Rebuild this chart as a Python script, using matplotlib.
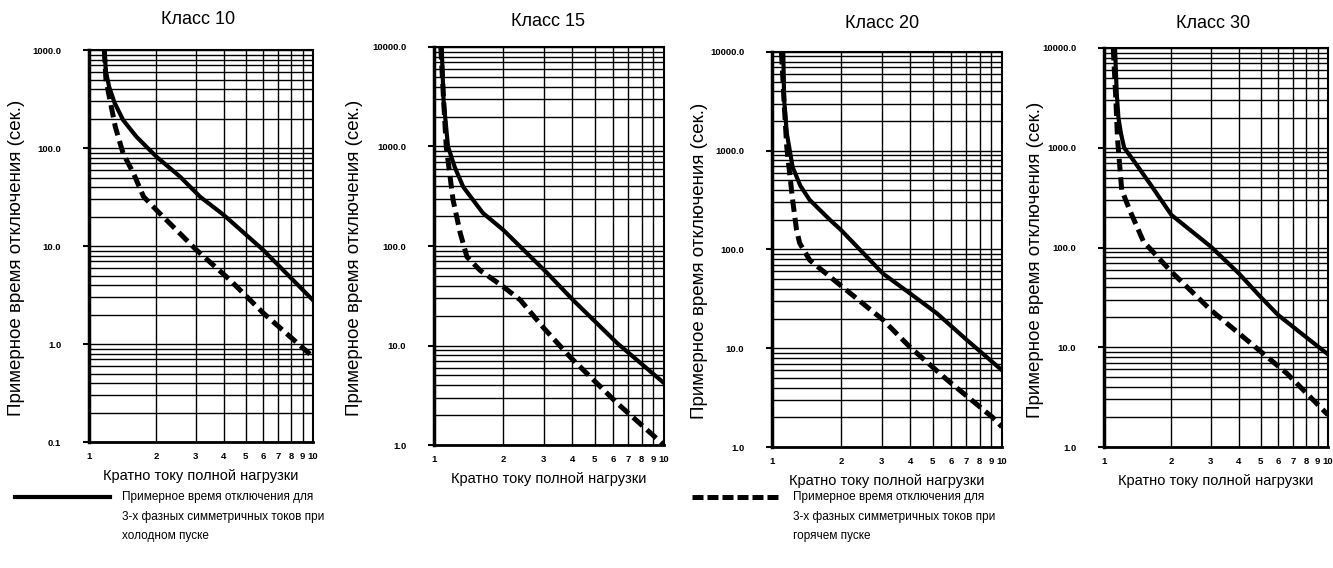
import matplotlib
matplotlib.use("Agg")
import matplotlib.pyplot as plt
from matplotlib.ticker import FixedLocator, FixedFormatter, LogLocator, NullFormatter
from matplotlib.lines import Line2D

plt.rcParams['font.family'] = ['Liberation Sans', 'DejaVu Sans']

# ---------------- data ----------------
titles = ["Класс 10", "Класс 15", "Класс 20", "Класс 30"]
ylabel = "Примерное время отключения (сек.)"
xlabel = "Кратно току полной нагрузки"
x_ticks = [1, 2, 3, 4, 5, 6, 7, 8, 9, 10]
x_ticklabels = ["1", "2", "3", "4", "5", "6", "7", "8", "9", "10"]
y_ticks_c10 = [0.1, 1.0, 10.0, 100.0, 1000.0]
y_ticks_other = [1.0, 10.0, 100.0, 1000.0, 10000.0]

# Class 10
c10_cold_x = [1.17, 1.19, 1.23, 1.30, 1.42, 1.63, 2.0, 2.55, 3.13, 4.0, 6.0, 10.0]
c10_cold_t = [1000, 600, 420, 290, 193, 130, 81.6, 51, 31.9, 20.7, 9.1, 2.8]
c10_hot_x = [1.17, 1.19, 1.24, 1.31, 1.42, 1.58, 1.75, 2.0, 3.02, 4.26, 6.0, 10.0]
c10_hot_t = [1000, 494, 309, 165, 88, 55, 32, 23.3, 9.1, 4.5, 2.07, 0.74]

# Class 15
c15_cold_x = [1.08, 1.10, 1.15, 1.23, 1.34, 1.63, 2.0, 3.1, 4.02, 6.25, 10.0]
c15_cold_t = [10000, 2930, 1000, 622, 392, 215, 145, 53.7, 28.7, 10.6, 4.2]
c15_hot_x = [1.07, 1.10, 1.13, 1.21, 1.30, 1.39, 1.585, 2.0, 2.37, 3.0, 3.9, 6.25, 10.0]
c15_hot_t = [10000, 3000, 1000, 290, 135, 78, 57, 39, 28.7, 15, 7.7, 2.64, 1.0]

# Class 20
c20_cold_x = [1.12, 1.13, 1.16, 1.23, 1.33, 1.46, 1.79, 2.0, 3.04, 3.98, 5.2, 7.05, 10.0]
c20_cold_t = [10000, 3265, 1513, 684, 440, 317, 199, 157, 57, 36, 22.7, 12.1, 6.0]
c20_hot_x = [1.10, 1.13, 1.16, 1.23, 1.28, 1.32, 1.46, 2.03, 3.04, 3.98, 5.77, 9.1, 10.0]
c20_hot_t = [10000, 3000, 1090, 317, 157, 116, 78, 41.6, 19.4, 10.3, 4.8, 2.0, 1.6]

# Class 30
c30_cold_x = [1.12, 1.14, 1.16, 1.19, 1.23, 1.35, 1.60, 2.0, 3.0, 4.0, 5.0, 6.0, 8.3, 10.0]
c30_cold_t = [10000, 3500, 2000, 1400, 1000, 754, 440, 212, 102, 55, 32, 21, 11.8, 8.5]
c30_hot_x = [1.10, 1.13, 1.15, 1.20, 1.31, 1.50, 2.0, 3.0, 4.0, 6.54, 10.0]
c30_hot_t = [10000, 3000, 1200, 377, 230, 115, 57, 23.6, 13.8, 5.5, 2.1]

legend_cold = "Примерное время отключения для\n3-х фазных симметричных токов при\nхолодном пуске"
legend_hot = "Примерное время отключения для\n3-х фазных симметричных токов при\nгорячем пуске"

panels = [
    (titles[0], y_ticks_c10, c10_cold_x, c10_cold_t, c10_hot_x, c10_hot_t),
    (titles[1], y_ticks_other, c15_cold_x, c15_cold_t, c15_hot_x, c15_hot_t),
    (titles[2], y_ticks_other, c20_cold_x, c20_cold_t, c20_hot_x, c20_hot_t),
    (titles[3], y_ticks_other, c30_cold_x, c30_cold_t, c30_hot_x, c30_hot_t),
]

# ---------------- layout ----------------
W, H = 1333, 568
fig = plt.figure(figsize=(W / 100, H / 100), dpi=100)

rects = [
    [0.0668, 0.2218, 0.168, 0.690],
    [0.3256, 0.2165, 0.1725, 0.7008],
    [0.5791, 0.2130, 0.1725, 0.6955],
    [0.8282, 0.2130, 0.168, 0.7025],
]
title_pos = [(198, 19), (548, 21), (882, 23), (1213, 24)]
ylabel_x = [-0.285, -0.31, -0.28, -0.27]

for i, (rect, p) in enumerate(zip(rects, panels)):
    title, yt, cx, ct, hx, ht = p
    ax = fig.add_axes(rect)
    ax.set_xscale('log')
    ax.set_yscale('log')
    ax.set_xlim(1, 10)
    ax.set_ylim(yt[0], yt[-1])

    ax.xaxis.set_major_locator(FixedLocator(x_ticks))
    ax.xaxis.set_major_formatter(FixedFormatter(x_ticklabels))
    ax.xaxis.set_minor_locator(FixedLocator([]))
    ax.xaxis.set_minor_formatter(NullFormatter())

    ax.yaxis.set_major_locator(FixedLocator(yt))
    ax.yaxis.set_major_formatter(FixedFormatter([f"{v:.1f}" for v in yt]))
    ax.yaxis.set_minor_locator(LogLocator(base=10, subs=[2, 3, 4, 5, 6, 7, 8, 9], numticks=20))
    ax.yaxis.set_minor_formatter(NullFormatter())

    ax.grid(which='both', axis='both', color='black', lw=1.0)
    ax.set_axisbelow(True)

    for lab in ax.get_xticklabels() + ax.get_yticklabels():
        lab.set_fontweight('bold')
    ax.tick_params(axis='y', which='major', length=4, width=1.5, direction='out',
                   labelsize=6.8, pad=16)
    ax.tick_params(axis='y', which='minor', length=0)
    ax.tick_params(axis='x', which='both', length=0, labelsize=6.8, pad=7)

    ax.spines['left'].set_linewidth(2.5)
    ax.spines['bottom'].set_linewidth(2.0)
    ax.spines['top'].set_linewidth(1.5)
    ax.spines['right'].set_linewidth(1.5)

    ax.plot(cx, ct, color='black', lw=3.0, solid_joinstyle='round', zorder=5)
    ax.plot(hx, ht, color='black', lw=3.6, dashes=(2.5, 1.2), zorder=5)

    ax.set_ylabel(ylabel, fontsize=13.5)
    ax.yaxis.set_label_coords(ylabel_x[i], 0.47)
    ax.set_xlabel(xlabel, fontsize=10.5, labelpad=6)

    tx, ty = title_pos[i]
    fig.text(tx / W, 1 - ty / H, title, fontsize=13, ha='center', va='center')

# ---------------- legends ----------------
fig.add_artist(Line2D([15 / W, 110 / W], [1 - 497 / H, 1 - 497 / H], color='black', lw=3.0))
fig.text(122 / W, 1 - 491 / H, legend_cold, fontsize=8.5, ha='left', va='top', linespacing=1.85)

fig.add_artist(Line2D([692 / W, 780 / W], [1 - 497 / H, 1 - 497 / H], color='black', lw=3.6,
                      dashes=(2.2, 0.8)))
fig.text(793 / W, 1 - 491 / H, legend_hot, fontsize=8.5, ha='left', va='top', linespacing=1.85)

fig.savefig("out.png", dpi=100)
